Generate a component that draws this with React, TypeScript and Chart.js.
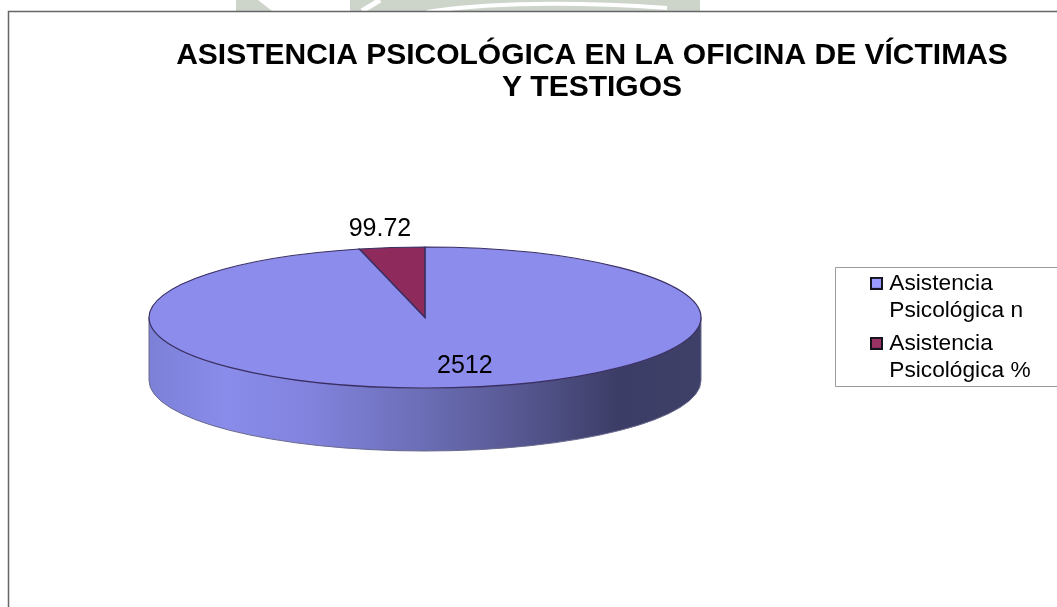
import React, { useEffect, useRef } from "react";
import { Chart, registerables } from "chart.js";

Chart.register(...registerables);

const categories = [
  ["Asistencia", "Psicológica n"],
  ["Asistencia", "Psicológica %"],
];
const seriesValues = [2512, 99.72];
const valueLabels = ["2512", "99.72"];
const sliceColors = ["#8B8CEC", "#8E2B5C"];
const legendColors = ["#9999FF", "#993366"];
const titleLines = ["ASISTENCIA PSICOLÓGICA EN LA OFICINA DE VÍCTIMAS", "Y TESTIGOS"];

const FONT = "'Liberation Sans', Arial, sans-serif";
const PIE = { cx: 425, cy: 317.5, rx: 276, ry: 70.5, depth: 63 };
const LABEL_SHIFT = [
  { dx: 17, dy: 0 },
  { dx: -12, dy: -18.5 },
];

function swatch(color: string) {
  const c = document.createElement("canvas");
  c.width = 13;
  c.height = 13;
  const x = c.getContext("2d") as CanvasRenderingContext2D;
  x.fillStyle = "#14141f";
  x.fillRect(0, 0, 13, 13);
  x.fillStyle = color;
  x.fillRect(2, 2, 9, 9);
  return c;
}

function pieTransform(ctx: CanvasRenderingContext2D, arc: any) {
  ctx.translate(PIE.cx, PIE.cy);
  ctx.scale(PIE.rx / arc.outerRadius, PIE.ry / arc.outerRadius);
  ctx.translate(-arc.x, -arc.y);
}

const pie3d = {
  id: "pie3d",
  afterLayout(chart: any) {
    const t = chart.titleBlock;
    t.left = 127;
    t.right = 1057;
    t.top = 30;
    const l = chart.legend;
    l.left = 869;
    l.right = 1057;
    const h = l.bottom - l.top;
    l.top = 266;
    l.bottom = 266 + h;
  },
  beforeDraw(chart: any) {
    const { ctx, width, height } = chart;
    ctx.save();
    ctx.fillStyle = "#ffffff";
    ctx.fillRect(0, 0, width, height);
    // pale watermark showing above the chart frame
    ctx.fillStyle = "#CDD5CB";
    ctx.beginPath();
    ctx.moveTo(236, 0);
    ctx.lineTo(258, 0);
    ctx.lineTo(272, 11);
    ctx.lineTo(236, 11);
    ctx.closePath();
    ctx.fill();
    ctx.fillRect(350, 0, 350, 11);
    ctx.strokeStyle = "#ffffff";
    ctx.lineWidth = 5;
    ctx.beginPath();
    ctx.moveTo(362, 11);
    ctx.lineTo(380, 0);
    ctx.stroke();
    ctx.lineWidth = 4;
    ctx.beginPath();
    ctx.moveTo(427, 12);
    ctx.quadraticCurveTo(520, -2, 667, 8);
    ctx.stroke();
    ctx.strokeStyle = "#666666";
    ctx.lineWidth = 1.5;
    ctx.fillStyle = "#ffffff";
    ctx.fillRect(9, 12, width, height);
    ctx.beginPath();
    ctx.moveTo(8.5, height);
    ctx.lineTo(8.5, 11.5);
    ctx.lineTo(width, 11.5);
    ctx.stroke();
    ctx.strokeStyle = "#9a9a9a";
    ctx.lineWidth = 1;
    ctx.beginPath();
    ctx.moveTo(width, 267.5);
    ctx.lineTo(835.5, 267.5);
    ctx.lineTo(835.5, 386.5);
    ctx.lineTo(width, 386.5);
    ctx.stroke();
    ctx.restore();
  },
  beforeDatasetDraw(chart: any) {
    const { ctx } = chart;
    const arc = chart.getDatasetMeta(0).data[0];
    const { cx, cy, rx, ry, depth } = PIE;
    ctx.save();
    const g = ctx.createLinearGradient(cx - rx, 0, cx + rx, 0);
    g.addColorStop(0, "#7C80D6");
    g.addColorStop(0.14, "#8A8CEB");
    g.addColorStop(0.3, "#8082DC");
    g.addColorStop(0.5, "#6B6DB5");
    g.addColorStop(0.68, "#55568F");
    g.addColorStop(0.85, "#3C3D66");
    g.addColorStop(1, "#3F4068");
    ctx.fillStyle = g;
    ctx.beginPath();
    ctx.moveTo(cx - rx, cy);
    ctx.lineTo(cx - rx, cy + depth);
    ctx.ellipse(cx, cy + depth, rx, ry, 0, Math.PI, 0, true);
    ctx.lineTo(cx + rx, cy);
    ctx.ellipse(cx, cy, rx, ry, 0, 0, Math.PI);
    ctx.closePath();
    ctx.fill();
    ctx.strokeStyle = "#6a6b8f";
    ctx.lineWidth = 1;
    ctx.stroke();
    ctx.restore();
    ctx.save();
    pieTransform(ctx, arc);
  },
  afterDatasetDraw(chart: any) {
    const { ctx } = chart;
    ctx.restore();
    const arcs = chart.getDatasetMeta(0).data;
    arcs.forEach((arc: any) => {
      ctx.save();
      ctx.beginPath();
      ctx.save();
      pieTransform(ctx, arc);
      ctx.moveTo(arc.x, arc.y);
      ctx.arc(arc.x, arc.y, arc.outerRadius, arc.startAngle, arc.endAngle);
      ctx.closePath();
      ctx.restore();
      ctx.strokeStyle = "#3a2f63";
      ctx.lineWidth = 1.2;
      ctx.stroke();
      ctx.restore();
    });
  },
  afterDatasetsDraw(chart: any) {
    const { ctx } = chart;
    const arcs = chart.getDatasetMeta(0).data;
    ctx.save();
    ctx.fillStyle = "#000000";
    ctx.font = `25px ${FONT}`;
    ctx.textAlign = "center";
    ctx.textBaseline = "middle";
    arcs.forEach((arc: any, i: number) => {
      const mid = (arc.startAngle + arc.endAngle) / 2;
      const frac = i === 0 ? 0.69 : 1;
      const x = PIE.cx + Math.cos(mid) * PIE.rx * frac + LABEL_SHIFT[i].dx;
      const y = PIE.cy + Math.sin(mid) * PIE.ry * frac + LABEL_SHIFT[i].dy;
      ctx.fillText(valueLabels[i], x, y);
    });
    ctx.restore();
  },
};

export default function App() {
  const ref = useRef<HTMLCanvasElement>(null);
  useEffect(() => {
    document.body.style.margin = "0";
    const chart = new Chart(ref.current as HTMLCanvasElement, {
      type: "pie",
      data: {
        labels: categories as any,
        datasets: [
          {
            data: seriesValues,
            backgroundColor: sliceColors,
            borderWidth: 0,
            clip: false as any,
          },
        ],
      },
      options: {
        responsive: false,
        animation: false,
        plugins: {
          title: {
            display: true,
            text: titleLines,
            color: "#000000",
            font: { family: FONT, size: 30, weight: "bold", lineHeight: 32 / 30 },
            padding: 10,
          },
          legend: {
            display: true,
            position: "right",
            align: "start",
            labels: {
              font: { family: FONT, size: 22.7, lineHeight: 27 / 22.7 },
              color: "#000000",
              usePointStyle: true,
              pointStyleWidth: 3,
              boxHeight: 11,
              padding: 6,
              generateLabels: () =>
                categories.map((c, i) => ({
                  text: c as any,
                  fillStyle: legendColors[i],
                  strokeStyle: "#14141f",
                  pointStyle: swatch(legendColors[i]),
                  lineWidth: 2,
                  hidden: false,
                  index: i,
                })),
            },
          },
          tooltip: { enabled: false },
        },
      },
      plugins: [pie3d],
    } as any);
    return () => chart.destroy();
  }, []);
  return <canvas ref={ref} width={1057} height={607} style={{ display: "block" }} />;
}
